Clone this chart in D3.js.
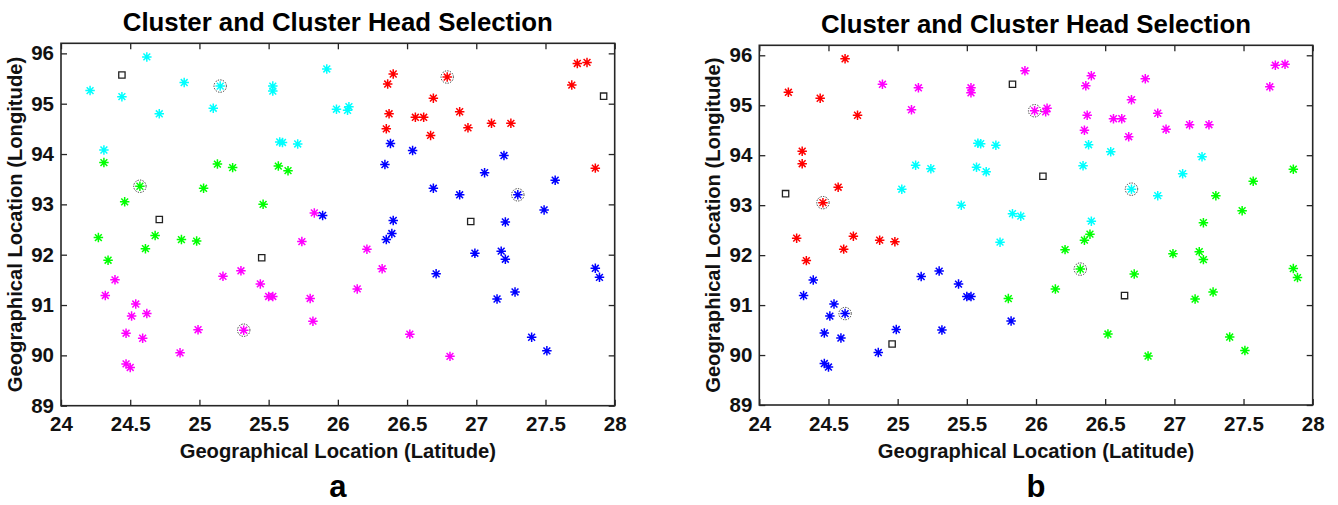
<!DOCTYPE html>
<html>
<head>
<meta charset="utf-8">
<script src="https://cdn.jsdelivr.net/npm/d3@7"></script>
<style>
  body { margin: 0; background: #fff; }
  svg { display: block; font-family: "Liberation Sans", Arial, sans-serif; }
</style>
</head>
<body>
<svg id="chart" width="1338" height="505"></svg>
<script>
// Node positions (shared by both panels).
const lat = [
  24.21, 24.62, 24.44, 24.31, 24.89, 24.71, 25.15, 25.10, 25.53, 25.53,
  25.92, 25.58, 25.60, 25.71, 25.99, 26.07, 26.08,
  24.31, 24.57, 24.46, 24.27, 24.68, 24.61, 24.87, 24.98, 24.34,
  25.03, 25.13, 25.24, 25.46, 25.57, 25.64,
  25.83, 25.74, 24.39, 24.32, 24.54, 24.51, 24.62, 24.47, 24.59, 24.47,
  24.50, 24.86, 24.99, 25.17, 25.30, 25.32, 25.44, 25.50, 25.53, 25.80,
  25.82, 26.21, 26.32, 26.14, 26.52, 26.81,
  25.89, 26.38, 26.54, 26.34, 27.20, 27.06, 27.57, 26.69, 26.88, 27.30,
  27.49, 27.21, 26.40, 26.39, 26.35, 26.99, 27.18, 27.21, 26.71, 27.28,
  27.15, 27.86, 27.89, 27.40, 27.51,
  27.73, 27.80, 27.69, 27.86, 26.40, 26.36, 26.79, 26.69, 26.37, 26.56,
  26.62, 26.88, 26.35, 26.94, 27.11, 27.25, 26.67
];
const lon = [
  95.26, 95.93, 95.14, 94.08, 95.42, 94.80, 95.35, 94.91, 95.35, 95.25,
  95.69, 94.24, 94.23, 94.20, 94.89, 94.87, 94.94,
  93.83, 93.36, 93.05, 92.34, 92.38, 92.12, 92.30, 92.27, 91.89,
  93.32, 93.80, 93.73, 93.00, 93.76, 93.67,
  92.83, 92.26, 91.50, 91.19, 91.02, 90.78, 90.83, 90.44, 90.34, 89.83,
  89.76, 90.05, 90.51, 91.57, 91.68, 90.50, 91.42, 91.17, 91.17, 91.13,
  90.68, 92.11, 91.72, 91.32, 90.42, 89.98,
  92.78, 94.21, 94.07, 93.79, 93.97, 93.63, 93.48, 93.32, 93.19, 93.19,
  92.89, 92.65, 92.68, 92.42, 92.30, 92.03, 92.07, 91.91, 91.62, 91.26,
  91.12, 91.73, 91.55, 90.36, 90.09,
  95.80, 95.82, 95.37, 93.72, 95.59, 95.39, 95.53, 95.11, 94.80, 94.73,
  94.73, 94.84, 94.50, 94.52, 94.61, 94.61, 94.37
];

// Cluster of every node: c=cyan g=green m=magenta r=red b=blue
const clusterA = (
  "ccccccccccccccccc" +
  "ggggggggggggggg" +
  "mmmmmmmmmmmmmmmmmmmmmmmmmm" +
  "bbbbbbbbbbbbbbbbbbbbbbbbb" +
  "rrrrrrrrrrrrrrrrr"
).split("");
const clusterB = (
  "rrrrmrmmmmmcccmmm" +
  "rrrrrrrrrcccccc" +
  "ccbbbbbbbbbbbbbbbbbgbggggg" +
  "ccccccgccgggcgggggggggggg" +
  "mmmgmmmmmmmmmmmmm"
).split("");

// Cluster heads (node indices).
const headsA = [6, 18, 47, 67, 89];
const headsB = [19, 38, 14, 65, 54];

// Square markers.
const sqLatA = [24.44, 24.71, 25.45, 26.96, 27.92];
const sqLonA = [95.57, 92.70, 91.94, 92.66, 95.15];
const sqLatB = [24.19, 25.83, 26.05, 24.96, 26.64];
const sqLonB = [93.23, 95.42, 93.58, 90.22, 91.19];

const xTicks = [24, 24.5, 25, 25.5, 26, 26.5, 27, 27.5, 28];
const yTicks = [89, 90, 91, 92, 93, 94, 95, 96];

const colors = { c: "#00ffff", g: "#00ff00", m: "#ff00ff", r: "#ff0000", b: "#0000ff" };

// MATLAB style "*" marker.
const asterisk = {
  draw(ctx, size) {
    const r = Math.sqrt(size) / 2, d = r * 0.72;
    ctx.moveTo(-r, 0); ctx.lineTo(r, 0);
    ctx.moveTo(0, -r); ctx.lineTo(0, r);
    ctx.moveTo(-d, -d); ctx.lineTo(d, d);
    ctx.moveTo(-d, d); ctx.lineTo(d, -d);
  }
};

const svg = d3.select("#chart");

function drawPanel(p) {
  const x = d3.scaleLinear().domain([24, 28]).range([p.left, p.right]);
  const y = d3.scaleLinear().domain([89, 96.2]).range([p.bottom, p.top]);
  const g = svg.append("g");
  const cx = (p.left + p.right) / 2;

  // Axes, ticks pointing inward.
  g.append("g")
    .attr("transform", `translate(0,${p.bottom})`)
    .call(d3.axisBottom(x).tickValues(xTicks).tickFormat(d3.format("")).tickSizeInner(-6).tickSizeOuter(0).tickPadding(11));
  g.append("g")
    .attr("transform", `translate(0,${p.top})`)
    .call(d3.axisTop(x).tickValues(xTicks).tickFormat("").tickSizeInner(-6).tickSizeOuter(0));
  g.append("g")
    .attr("transform", `translate(${p.left},0)`)
    .call(d3.axisLeft(y).tickValues(yTicks).tickSizeInner(-6).tickSizeOuter(0).tickPadding(7));
  g.append("g")
    .attr("transform", `translate(${p.right},0)`)
    .call(d3.axisRight(y).tickValues(yTicks).tickFormat("").tickSizeInner(-6).tickSizeOuter(0));

  g.selectAll(".domain").remove();
  g.selectAll(".tick line").attr("stroke", "#262626").attr("stroke-width", 1.3);
  g.selectAll(".tick text")
    .attr("font-size", 20.5).attr("font-weight", "bold").attr("fill", "#111")
    .attr("font-family", "Liberation Sans, Arial, sans-serif");

  g.append("rect")
    .attr("x", p.left).attr("y", p.top)
    .attr("width", p.right - p.left).attr("height", p.bottom - p.top)
    .attr("fill", "none").attr("stroke", "#262626").attr("stroke-width", 1.6);

  // Nodes.
  const sym = d3.symbol().type(asterisk).size(90);
  g.selectAll("path.node")
    .data(d3.range(lat.length))
    .enter().append("path")
    .attr("class", "node")
    .attr("transform", (i) => `translate(${x(lat[i])},${y(lon[i])})`)
    .attr("d", sym)
    .attr("fill", "none")
    .attr("stroke", (i) => colors[p.cluster[i]])
    .attr("stroke-width", 1.5);

  // Cluster heads.
  g.selectAll("circle.head")
    .data(p.heads)
    .enter().append("circle")
    .attr("cx", (i) => x(lat[i]))
    .attr("cy", (i) => y(lon[i]))
    .attr("r", 6.2)
    .attr("fill", "none")
    .attr("stroke", "#333")
    .attr("stroke-width", 1)
    .attr("stroke-dasharray", "1.3,1.3");

  // Squares.
  g.selectAll("path.sq")
    .data(d3.range(p.sqLat.length))
    .enter().append("path")
    .attr("transform", (i) => `translate(${x(p.sqLat[i])},${y(p.sqLon[i])})`)
    .attr("d", d3.symbol().type(d3.symbolSquare).size(40))
    .attr("fill", "none")
    .attr("stroke", "#222")
    .attr("stroke-width", 1.3);

  // Texts.
  g.append("text")
    .attr("x", cx).attr("y", p.titleY)
    .attr("text-anchor", "middle")
    .attr("font-size", 25.8).attr("font-weight", "bold")
    .text("Cluster and Cluster Head Selection");
  g.append("text")
    .attr("x", cx).attr("y", 457.5)
    .attr("text-anchor", "middle")
    .attr("font-size", 20.2).attr("font-weight", "bold").attr("fill", "#111")
    .text("Geographical Location (Latitude)");
  g.append("text")
    .attr("transform", `translate(${p.left - 39},${(p.top + p.bottom) / 2}) rotate(-90)`)
    .attr("text-anchor", "middle")
    .attr("font-size", 20.2).attr("font-weight", "bold").attr("fill", "#111")
    .text("Geographical Location (Longitude)");
  g.append("text")
    .attr("x", cx).attr("y", 497)
    .attr("text-anchor", "middle")
    .attr("font-size", 31).attr("font-weight", "bold")
    .text(p.letter);
}

drawPanel({ left: 61, right: 614.7, top: 43.3, bottom: 405.7, titleY: 30.5,
  cluster: clusterA, heads: headsA, sqLat: sqLatA, sqLon: sqLonA, letter: "a" });
drawPanel({ left: 759.3, right: 1312.7, top: 45.3, bottom: 405, titleY: 33,
  cluster: clusterB, heads: headsB, sqLat: sqLatB, sqLon: sqLonB, letter: "b" });
</script>
</body>
</html>
